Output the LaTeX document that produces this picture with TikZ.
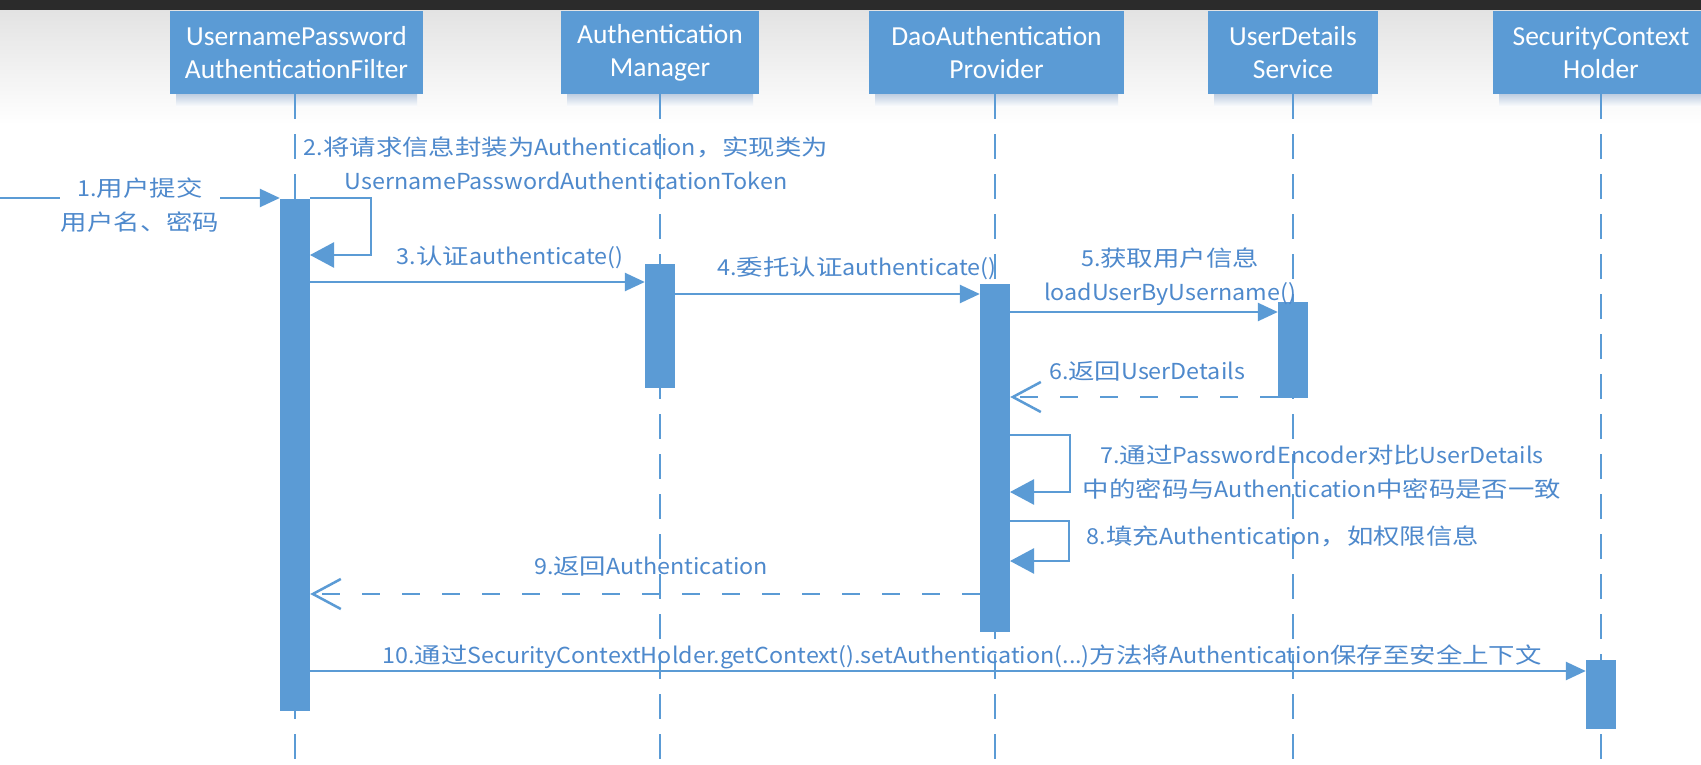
\documentclass[tikz,border=0pt]{standalone}
\usepackage{fontspec}
\setmainfont{Carlito}
\newfontfamily\labfont[FakeStretch=1.2]{Noto Sans CJK SC}
\newfontfamily\latfont[FakeStretch=1.06]{Noto Sans CJK SC}
\newcommand{\latn}[1]{{\latfont #1}}
\newfontfamily\headfont{Carlito}
\usetikzlibrary{arrows.meta,calc}
\definecolor{sblue}{RGB}{91,155,213}
\definecolor{tblue}{RGB}{78,137,204}
\definecolor{topbar}{RGB}{43,43,43}
\definecolor{shadowc}{RGB}{190,205,225}
\begin{document}
\begin{tikzpicture}[x=1pt,y=-1pt,
  hdr/.style={fill=sblue, text=white, font=\headfont\fontsize{27.5}{32.5}\selectfont, align=center, inner sep=0pt, minimum height=83pt, anchor=north},
  life/.style={draw=sblue, line width=2.5pt, dash pattern=on 25pt off 15pt},
  actbar/.style={fill=sblue, minimum width=30pt, inner sep=0pt, anchor=north},
  msg/.style={draw=sblue, line width=2.5pt, -{Triangle[length=20pt,width=18pt]}},
  selfmsg/.style={draw=sblue, line width=2.5pt, -{Triangle[length=24pt,width=25pt]}},
  ret/.style={draw=sblue, line width=2.5pt, dash pattern=on 18pt off 22pt, -{Straight Barb[length=28pt,width=30pt,line width=2.5pt]}},
  lab/.style={text=tblue, font=\labfont\fontsize{22}{34}\selectfont, align=center, inner sep=0pt},
]
\useasboundingbox (0,0) rectangle (1701,765);
\fill[white] (0,0) rectangle (1701,765);
\shade[top color=gray!22, bottom color=white] (0,10) rectangle (1701,125);
\fill[topbar] (0,0) rectangle (1701,10);

% box shadows
\foreach \xa/\xb in {170/423, 561/759, 869/1124, 1208/1378, 1493/1709}{
  \shade[top color=shadowc, bottom color=white] (\xa+6,94) rectangle (\xb-6,107);
}

% headers
\node[hdr, minimum width=253pt] (h1) at (296.5,11) {UsernamePassword\\AuthenticationFilter};
\node[hdr, minimum width=198pt] (h2) at (660,11) {Authentication\\Manager};
\node[hdr, minimum width=255pt] (h3) at (996.5,11) {DaoAuthentication\\Provider};
\node[hdr, minimum width=170pt] (h4) at (1293,11) {UserDetails\\Service};
\node[hdr, minimum width=216pt] (h5) at (1601,11) {SecurityContext\\Holder};

% lifeline ends
\coordinate (e1) at (295,765);
\coordinate (e2) at (660,765);
\coordinate (e3) at (995,765);
\coordinate (e4) at (1293,765);
\coordinate (e5) at (1601,765);
\draw[life] (h1.south -| e1) -- (e1);
\draw[life] (h2.south -| e2) -- (e2);
\draw[life] (h3.south -| e3) -- (e3);
\draw[life] (h4.south -| e4) -- (e4);
\draw[life] (h5.south -| e5) -- (e5);

% activation bars
\node[actbar, minimum height=512pt] (a1) at (295,199) {};
\node[actbar, minimum height=124pt] (a2) at (660,264) {};
\node[actbar, minimum height=348pt] (a3) at (995,284) {};
\node[actbar, minimum height=96pt] (a4) at (1293,302) {};
\node[actbar, minimum height=69pt] (a5) at (1601,660) {};

% message 1
\coordinate (m1s) at (0,198);
\draw[msg] (m1s) -- (m1s -| a1.west);
\node[lab, fill=white, inner xsep=1pt, inner ysep=2pt] (l1) at (140,205) {\latn{1.}用户提交\\用户名、密码};

% message 2 (self)
\coordinate (m2a) at (310,198);
\coordinate (m2b) at (371,198);
\coordinate (m2c) at (371,255);
\coordinate (m2d) at (310,255);
\draw[selfmsg] (m2a) -- (m2b) -- (m2c) -- (m2d);
\node[lab] (l2) at (566,163) {\latn{2.}将请求信息封装为\latn{Authentication}，实现类为\\\latn{UsernamePasswordAuthenticationToken}};

% message 3
\coordinate (m3) at (0,282);
\draw[msg] (m3 -| a1.east) -- (m3 -| a2.west);
\node[lab] (l3) at (510,257) {\latn{3.}认证\latn{authenticate()}};

% message 4
\coordinate (m4) at (0,294);
\draw[msg] (m4 -| a2.east) -- (m4 -| a3.west);
\node[lab] (l4) at (857,268) {\latn{4.}委托认证\latn{authenticate()}};

% message 5
\coordinate (m5) at (0,312);
\draw[msg] (m5 -| a3.east) -- (m5 -| a4.west);
\node[lab] (l5) at (1170,277) {\latn{5.}获取用户信息\\\latn{loadUserByUsername()}};

% message 6 (return)
\coordinate (m6) at (0,397);
\draw[ret] (m6 -| a4.west) -- (m6 -| a3.east);
\node[lab] (l6) at (1147,371) {\latn{6.}返回\latn{UserDetails}};

% message 7 (self)
\coordinate (m7a) at (1010,435);
\coordinate (m7b) at (1070,435);
\coordinate (m7c) at (1070,492);
\coordinate (m7d) at (1010,492);
\draw[selfmsg] (m7a) -- (m7b) -- (m7c) -- (m7d);
\node[lab] (l7) at (1322,472) {\latn{7.}通过\latn{PasswordEncoder}对比\latn{UserDetails}\\中的密码与\latn{Authentication}中密码是否一致};

% message 8 (self)
\coordinate (m8a) at (1010,521);
\coordinate (m8b) at (1069,521);
\coordinate (m8c) at (1069,561);
\coordinate (m8d) at (1010,561);
\draw[selfmsg] (m8a) -- (m8b) -- (m8c) -- (m8d);
\node[lab] (l8) at (1283,536) {\latn{8.}填充\latn{Authentication}，如权限信息};

% message 9 (return)
\coordinate (m9) at (0,594);
\draw[ret] (m9 -| a3.west) -- (m9 -| a1.east);
\node[lab] (l9) at (651,566) {\latn{9.}返回\latn{Authentication}};

% message 10
\coordinate (m10) at (0,671);
\draw[msg] (m10 -| a1.east) -- (m10 -| a5.west);
\node[lab] (l10) at (962,657) {\latn{10.}通过\latn{SecurityContextHolder.getContext().setAuthentication(...)}方法将\latn{Authentication}保存至安全上下文};
\end{tikzpicture}
\end{document}
